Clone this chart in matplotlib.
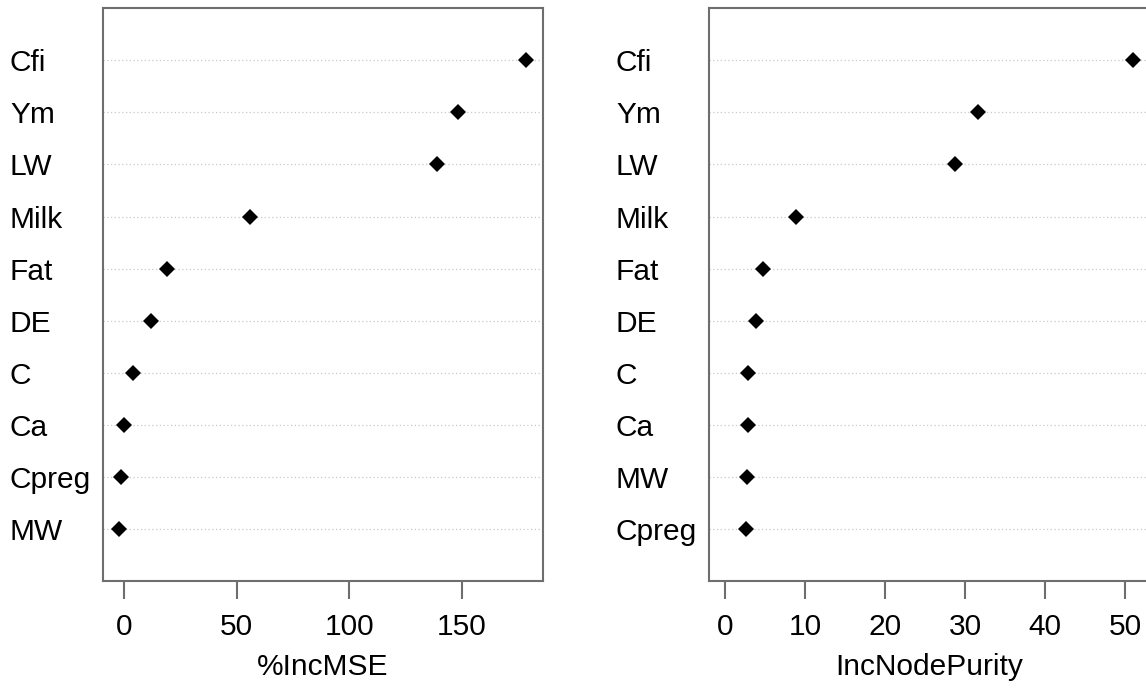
import matplotlib
matplotlib.use("Agg")
import matplotlib.pyplot as plt

plt.rcParams['font.family'] = ['Liberation Sans', 'DejaVu Sans']

# left panel: %IncMSE (top to bottom)
mse_vars = ['Cfi', 'Ym', 'LW', 'Milk', 'Fat', 'DE', 'C', 'Ca', 'Cpreg', 'MW']
mse_vals = [178.6, 148.3, 139.0, 55.7, 18.8, 11.7, 3.7, -0.3, -1.6, -2.2]

# right panel: IncNodePurity (top to bottom)
pur_vars = ['Cfi', 'Ym', 'LW', 'Milk', 'Fat', 'DE', 'C', 'Ca', 'MW', 'Cpreg']
pur_vals = [51.0, 31.6, 28.7, 8.9, 4.75, 3.9, 2.9, 2.8, 2.7, 2.6]

W, H = 1146, 688
fig = plt.figure(figsize=(W / 100, H / 100), dpi=100)

frame_col = '#6e6e6e'
fs = 21.5


def dot_panel(ax, names, vals, xmin, xticks, xlabel):
    n = len(vals)
    ypos = list(range(n, 0, -1))
    for y in ypos:
        ax.axhline(y, color='#c8c8c8', lw=0.9, ls=(0, (1, 2)), zorder=1)
    ax.plot(vals, ypos, ls='none', marker='D', ms=8, color='black',
            markeredgewidth=0, zorder=3)
    xmax = max(vals)
    span = xmax - xmin
    ax.set_xlim(xmin - 0.04 * span, xmax + 0.04 * span)
    ax.set_ylim(0, n + 1)
    ax.set_yticks(ypos, names)
    ax.tick_params(axis='y', length=0, pad=67, labelsize=fs)
    for lbl in ax.get_yticklabels():
        lbl.set_horizontalalignment('left')
    ax.set_xticks(xticks)
    ax.tick_params(axis='x', length=13, width=1.5, color=frame_col,
                   pad=10, labelsize=fs)
    ax.set_xlabel(xlabel, fontsize=fs, labelpad=9)
    for sp in ax.spines.values():
        sp.set_color(frame_col)
        sp.set_linewidth(1.5)


ax1 = fig.add_axes([103 / W, (H - 581) / H, 439.7 / W, 572.7 / H])
dot_panel(ax1, mse_vars, mse_vals, min(mse_vals), [0, 50, 100, 150], '%IncMSE')

ax2 = fig.add_axes([709 / W, (H - 581) / H, 440.3 / W, 572.7 / H])
dot_panel(ax2, pur_vars, pur_vals, 0, [0, 10, 20, 30, 40, 50], 'IncNodePurity')

fig.savefig('out.png', dpi=100)
